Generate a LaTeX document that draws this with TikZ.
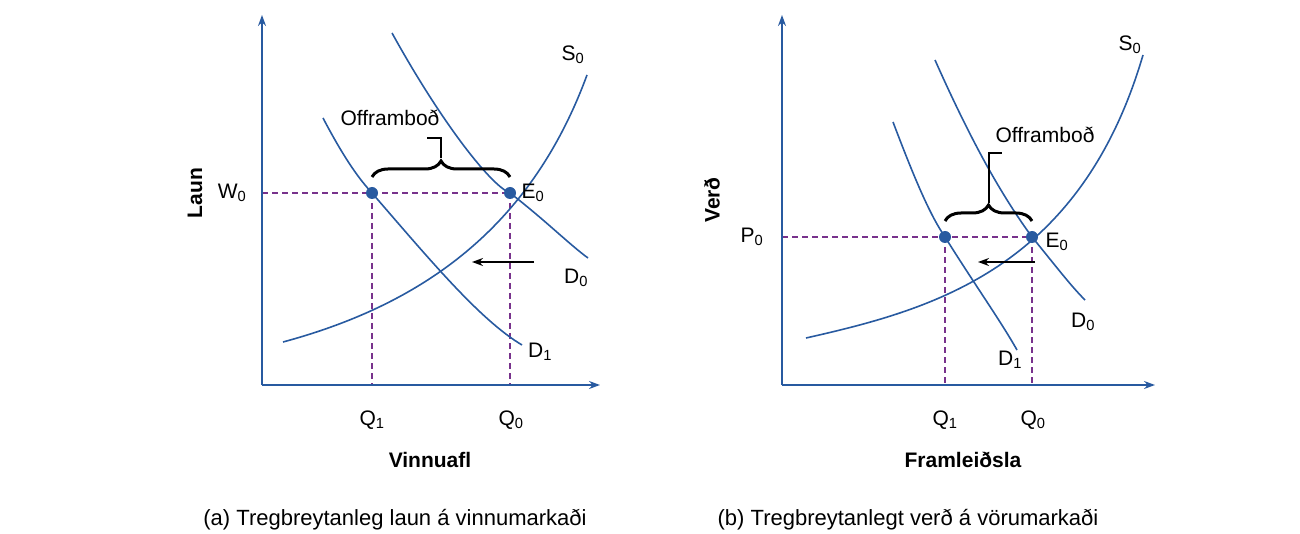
\documentclass[tikz,border=0pt]{standalone}
\usepackage{fontspec}
\setmainfont{Liberation Sans}
\usetikzlibrary{decorations.pathreplacing,arrows.meta}
\definecolor{cblue}{RGB}{40,90,160}
\definecolor{cpurp}{RGB}{120,50,140}
\newcommand{\sbs}[1]{\textsubscript{#1}}
\begin{document}
\begin{tikzpicture}[x=1pt,y=-1pt,
  ax/.style={cblue,line width=1.6pt,-{Stealth[length=11pt,width=8pt]}},
  crv/.style={cblue,line width=1.6pt},
  dsh/.style={cpurp,line width=1.3pt,dash pattern=on 6pt off 4pt},
  pt/.style={circle,fill=cblue,inner sep=0pt,minimum size=12pt},
  lab/.style={font=\fontsize{21}{24}\selectfont},
  ttl/.style={font=\fontsize{21}{24}\selectfont\bfseries},
  captxt/.style={font=\fontsize{22}{25}\selectfont},
  br/.style={decorate,decoration={brace,amplitude=16pt},line width=3pt},
  arr/.style={line width=1.6pt,-{Stealth[length=11pt,width=8pt]}}]
\useasboundingbox (0,0) rectangle (1300,534);
% panel a
\coordinate (oa) at (262,385);
\coordinate (ya) at (262,15);
\coordinate (xa) at (600,385);
\draw[dsh] (262,193) -- (510,193);
\draw[dsh] (372,193) -- (372,385);
\draw[dsh] (510,193) -- (510,385);
\draw[ax] (oa) -- (ya);
\draw[ax] (oa) -- (xa);
\draw[crv] (283,342) .. controls (420,305) and (530,230) .. (587,75);
\draw[crv] (392,33) .. controls (440,120) and (490,185) .. (510,193) .. controls (545,220) and (570,245) .. (588,258);
\draw[crv] (323,118) .. controls (345,160) and (360,180) .. (372,193) .. controls (430,260) and (480,320) .. (522,345);
\node[pt] (a1) at (372,193) {};
\node[pt] (a0) at (510,193) {};
\draw[br] (372,177) -- (510,177);
\draw[line width=1.5pt] (441,158) -- (441,138) -- (427,138);
\node[lab] (ofa) at (390,118) {Offramboð};
\coordinate (aas) at (534,262);
\coordinate (aae) at (472,262);
\draw[arr] (aas) -- (aae);
\node[lab] at (232,193) {W\sbs{0}};
\node[lab] at (533,193) {E\sbs{0}};
\node[lab] at (573,55) {S\sbs{0}};
\node[lab] at (576,278) {D\sbs{0}};
\node[lab] at (540,352) {D\sbs{1}};
\node[lab] at (372,420) {Q\sbs{1}};
\node[lab] at (511,420) {Q\sbs{0}};
\node[ttl,rotate=90] at (195,193) {Laun};
\node[ttl] at (430,460) {Vinnuafl};
\node[captxt] at (395,520) {(a) Tregbreytanleg laun á vinnumarkaði};
% panel b
\coordinate (ob) at (782,385);
\coordinate (yb) at (782,15);
\coordinate (xb) at (1155,385);
\draw[dsh] (782,237) -- (1032,237);
\draw[dsh] (945,237) -- (945,385);
\draw[dsh] (1032,237) -- (1032,385);
\draw[ax] (ob) -- (yb);
\draw[ax] (ob) -- (xb);
\draw[crv] (806,338) .. controls (930,310) and (1080,270) .. (1143,55);
\draw[crv] (935,60) .. controls (975,150) and (1005,200) .. (1032,237) .. controls (1055,265) and (1070,285) .. (1085,300);
\draw[crv] (893,122) .. controls (915,180) and (930,215) .. (945,237) .. controls (975,285) and (1000,320) .. (1017,350);
\node[pt] (b1) at (945,237) {};
\node[pt] (b0) at (1032,237) {};
\draw[br] (945,221) -- (1032,221);
\draw[line width=1.5pt] (989,203) -- (989,153) -- (1002,153);
\node[lab] (ofb) at (1045,135) {Offramboð};
\draw[arr] (1035,262) -- (978,262);
\node[lab] at (752,237) {P\sbs{0}};
\node[lab] at (1057,242) {E\sbs{0}};
\node[lab] at (1130,45) {S\sbs{0}};
\node[lab] at (1083,322) {D\sbs{0}};
\node[lab] at (1010,360) {D\sbs{1}};
\node[lab] at (945,420) {Q\sbs{1}};
\node[lab] at (1033,420) {Q\sbs{0}};
\node[ttl,rotate=90] at (712,200) {Verð};
\node[ttl] at (963,460) {Framleiðsla};
\node[captxt] at (908,520) {(b) Tregbreytanlegt verð á vörumarkaði};
\end{tikzpicture}
\end{document}
